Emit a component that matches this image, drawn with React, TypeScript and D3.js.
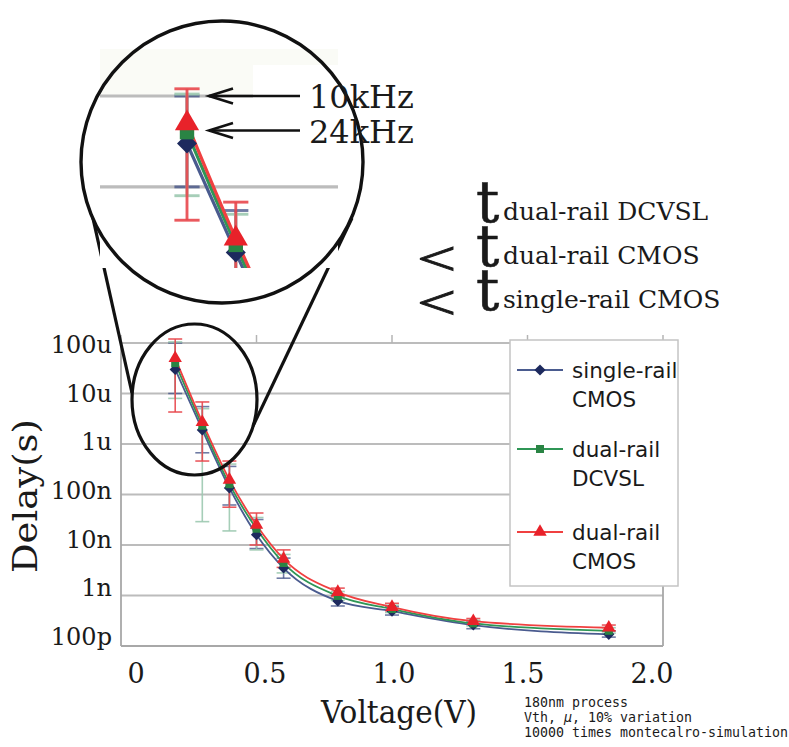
import React from "react";
import * as d3 from "d3";

// Supply voltage sweep (V)
const voltages = [0.2, 0.3, 0.4, 0.5, 0.6, 0.8, 1.0, 1.3, 1.8];

// Mean delay and Monte-Carlo spread (s)
const singleRailMean = [30e-6, 1.9e-6, 135e-9, 16e-9, 3.5e-9, 0.78e-9, 0.49e-9, 0.26e-9, 0.17e-9];
const singleRailLow = [10e-6, 0.67e-6, 62e-9, 8.5e-9, 2.2e-9, 0.62e-9, 0.41e-9, 0.22e-9, 0.15e-9];
const singleRailHigh = [100e-6, 5.5e-6, 360e-9, 32e-9, 5.5e-9, 1.0e-9, 0.6e-9, 0.31e-9, 0.2e-9];

const dcvslMean = [40e-6, 2.3e-6, 160e-9, 21e-9, 4.4e-9, 0.98e-9, 0.54e-9, 0.28e-9, 0.2e-9];
const dcvslLow = [8e-6, 29e-9, 19e-9, 8e-9, 2.8e-9, 0.8e-9, 0.46e-9, 0.25e-9, 0.18e-9];
const dcvslHigh = [105e-6, 5e-6, 400e-9, 35e-9, 6.5e-9, 1.2e-9, 0.64e-9, 0.32e-9, 0.23e-9];

const dualCmosMean = [50e-6, 2.7e-6, 195e-9, 25e-9, 5.3e-9, 1.17e-9, 0.59e-9, 0.31e-9, 0.23e-9];
const dualCmosLow = [4.3e-6, 0.46e-6, 56e-9, 10e-9, 3.6e-9, 0.95e-9, 0.5e-9, 0.27e-9, 0.2e-9];
const dualCmosHigh = [120e-6, 6.8e-6, 460e-9, 43e-9, 8e-9, 1.4e-9, 0.7e-9, 0.35e-9, 0.26e-9];

// Axis ticks
const yTickValues = [1e-10, 1e-9, 1e-8, 1e-7, 1e-6, 1e-5, 1e-4];
const yTickLabels = ["100p", "1n", "10n", "100n", "1u", "10u", "100u"];
const xTickValues = [0, 0.5, 1.0, 1.5, 2.0];
const xTickLabels = ["0", "0.5", "1.0", "1.5", "2.0"];

// Operating frequencies marked in the magnified view
const markedFreqs = [10e3, 24e3];
const markedFreqLabels = ["10kHz", "24kHz"];

// Delay ordering annotation
const relationTerms = ["dual-rail DCVSL", "dual-rail CMOS", "single-rail CMOS"];

const noteLines = ["180nm process", "Vth,  μ,  10% variation", "10000 times montecalro-simulation"];

const SERIF = "'DejaVu Serif', serif";
const TIMES = "'Liberation Serif', serif";
const SANS = "'DejaVu Sans', sans-serif";
const MONO = "'DejaVu Sans Mono', monospace";

type Series = {
  label: string[];
  mean: number[];
  low: number[];
  high: number[];
  line: string;
  marker: string;
  bar: string;
  barOpacity: number;
  symbol: d3.SymbolType;
  size: number;
  rotate: number;
};

const series: Series[] = [
  {
    label: ["single-rail", "CMOS"],
    mean: singleRailMean,
    low: singleRailLow,
    high: singleRailHigh,
    line: "#4a5b8f",
    marker: "#1d2a5e",
    bar: "#3f4f86",
    barOpacity: 0.75,
    symbol: d3.symbolSquare,
    size: 62,
    rotate: 45,
  },
  {
    label: ["dual-rail", "DCVSL"],
    mean: dcvslMean,
    low: dcvslLow,
    high: dcvslHigh,
    line: "#2f9656",
    marker: "#2a8444",
    bar: "#9cc9b0",
    barOpacity: 0.9,
    symbol: d3.symbolSquare,
    size: 64,
    rotate: 0,
  },
  {
    label: ["dual-rail", "CMOS"],
    mean: dualCmosMean,
    low: dualCmosLow,
    high: dualCmosHigh,
    line: "#f04040",
    marker: "#e8222a",
    bar: "#e8474c",
    barOpacity: 0.9,
    symbol: d3.symbolTriangle,
    size: 78,
    rotate: 0,
  },
];

const W = 789;
const H = 747;

const x = d3.scaleLinear().domain([0, 2]).range([121, 663]);
const y = d3.scaleLog().domain([1e-10, 1e-4]).range([646, 343]);
const xLabelPos = d3.scaleLinear().domain([0, 2]).range([136, 652]);
const yLabelBase = d3.scaleLog().domain([1e-10, 1e-4]).range([645, 353]);

const lineGen = d3
  .line<number>()
  .x((_, i) => x(voltages[i]))
  .y((d) => y(d))
  .curve(d3.curveMonotoneX);

// Magnified view: 1.8x around the 0.2 V / 100u corner
const zoomK = 1.8;
const zoomOrigin = { x: 187, y: 96 };
const zoomAnchorX = x(0.2);
const zoomAnchorY = y(1e-4);
const zoomTransform = `translate(${zoomOrigin.x},${zoomOrigin.y}) scale(${zoomK}) translate(${-zoomAnchorX},${-zoomAnchorY})`;
const zoomY = (v: number) => zoomOrigin.y + zoomK * (y(v) - zoomAnchorY);

function PlotMarks() {
  const top = y(1e-4);
  const bottom = y(1e-10);
  const cap = 7;
  return (
    <g>
      <rect x={x(0)} y={top} width={x(2) - x(0)} height={bottom - top} fill="#ffffff" />
      {yTickValues.map((t) => (
        <line key={t} x1={x(0)} x2={x(2)} y1={y(t)} y2={y(t)} stroke="#bcbcbc" strokeWidth={1.8} />
      ))}
      {xTickValues.map((v) => (
        <line key={v} x1={x(v)} x2={x(v)} y1={top - 8} y2={top} stroke="#b4b4b4" strokeWidth={1.5} />
      ))}
      <line x1={x(0)} x2={x(0)} y1={top} y2={bottom} stroke="#a8a8a8" strokeWidth={1.8} />
      <line x1={x(2)} x2={x(2)} y1={top} y2={bottom} stroke="#a8a8a8" strokeWidth={1.8} />
      <line x1={x(0)} x2={x(2)} y1={bottom} y2={bottom} stroke="#a8a8a8" strokeWidth={1.8} />

      {series.map((s, si) => (
        <g key={"bars" + si} stroke={s.bar} strokeOpacity={s.barOpacity} strokeWidth={1.6} fill="none">
          {voltages.map((v, i) => (
            <g key={i}>
              <line x1={x(v)} x2={x(v)} y1={y(s.high[i])} y2={y(s.low[i])} />
              <line x1={x(v) - cap} x2={x(v) + cap} y1={y(s.high[i])} y2={y(s.high[i])} />
              <line x1={x(v) - cap} x2={x(v) + cap} y1={y(s.low[i])} y2={y(s.low[i])} />
            </g>
          ))}
        </g>
      ))}

      {series.map((s, si) => (
        <path key={"line" + si} d={lineGen(s.mean) || ""} fill="none" stroke={s.line} strokeWidth={1.8} />
      ))}

      {series.map((s, si) => {
        const sym = d3.symbol().type(s.symbol).size(s.size)() || "";
        return (
          <g key={"marks" + si} fill={s.marker}>
            {voltages.map((v, i) => (
              <path
                key={i}
                d={sym}
                transform={`translate(${x(v)},${y(s.mean[i])}) rotate(${s.rotate})`}
              />
            ))}
          </g>
        );
      })}
    </g>
  );
}

function Legend() {
  const left = 510;
  const top = 340;
  const rowY = [370, 449, 532];
  return (
    <g>
      <rect x={left} y={top} width={168} height={246} fill="#ffffff" stroke="#c4c4c4" strokeWidth={1.5} />
      {series.map((s, i) => {
        const sym = d3.symbol().type(s.symbol).size(s.size)() || "";
        const cy = rowY[i];
        return (
          <g key={i}>
            <line x1={517} x2={563} y1={cy} y2={cy} stroke={s.line} strokeWidth={1.8} />
            <path d={sym} fill={s.marker} transform={`translate(540,${cy}) rotate(${s.rotate})`} />
            <text x={572} y={cy + 8} fontFamily={SANS} fontSize={21.5} fill="#1a1a1a">
              {s.label[0]}
            </text>
            <text x={572} y={cy + 37} fontFamily={SANS} fontSize={21.5} fill="#1a1a1a">
              {s.label[1]}
            </text>
          </g>
        );
      })}
    </g>
  );
}

export default function App() {
  const rowBase = [222, 266, 310];
  return (
    <svg
      width={W}
      height={H}
      viewBox={`0 0 ${W} ${H}`}
      style={{ position: "absolute", left: 0, top: 0, background: "#ffffff" }}
    >
      <defs>
        <clipPath id="zoomClip">
          <rect x={100} y={49} width={238} height={219} />
        </clipPath>
      </defs>
      <rect width={W} height={H} fill="#ffffff" />

      {/* main plot */}
      <PlotMarks />
      <Legend />

      {/* y tick labels */}
      {yTickValues.map((t, i) => (
        <text key={t} x={112} y={yLabelBase(t)} textAnchor="end" fontFamily={SERIF} fontSize={24} fill="#1a1a1a">
          {yTickLabels[i]}
        </text>
      ))}
      {/* x tick labels */}
      {xTickValues.map((v, i) => (
        <text key={v} x={xLabelPos(v)} y={683} textAnchor="middle" fontFamily={SERIF} fontSize={27} fill="#1a1a1a">
          {xTickLabels[i]}
        </text>
      ))}
      <text x={399} y={723} textAnchor="middle" fontFamily={SERIF} fontSize={31} textLength={156} lengthAdjust="spacingAndGlyphs" fill="#1a1a1a">
        Voltage(V)
      </text>
      <text
        transform="translate(37,496) rotate(-90)"
        textAnchor="middle"
        fontFamily={SERIF}
        fontSize={33}
        textLength={154}
        lengthAdjust="spacingAndGlyphs"
        fill="#1a1a1a"
      >
        Delay(s)
      </text>

      {/* simulation conditions */}
      <g transform="translate(524,0) scale(0.95,1)">
        {noteLines.map((t, i) => (
          <text key={i} x={0} y={707 + i * 15} fontFamily={MONO} fontSize={14} fill="#1a1a1a">
            {i === 1 ? (
              <>
                {"Vth,  "}
                <tspan fontStyle="italic">μ</tspan>
                {",  10% variation"}
              </>
            ) : (
              t
            )}
          </text>
        ))}
      </g>

      {/* callout from the low-voltage region to the magnified view */}
      <ellipse cx={194.5} cy={399.5} rx={62.5} ry={75.5} fill="none" stroke="#111" strokeWidth={3.2} />
      <line x1={90} y1={205} x2={132} y2={393} stroke="#111" strokeWidth={3.2} />
      <line x1={352} y1={218} x2={253} y2={426} stroke="#111" strokeWidth={3.2} />

      {/* magnified view */}
      <circle cx={222} cy={162} r={141} fill="#ffffff" />
      <g clipPath="url(#zoomClip)">
        <rect x={100} y={49} width={238} height={219} fill="#fafbf6" />
        <g transform={zoomTransform}>
          <PlotMarks />
        </g>
        <rect x={253} y={65} width={85} height={110} fill="#ffffff" />
      </g>
      <circle cx={222} cy={162} r={141} fill="none" stroke="#111" strokeWidth={3.4} />

      {markedFreqs.map((f, i) => {
        const yy = zoomY(1 / f);
        return (
          <g key={f}>
            <line x1={300} x2={209} y1={yy} y2={yy} stroke="#111" strokeWidth={2.6} />
            <polyline
              points={`233,${yy - 7.5} 209,${yy} 233,${yy + 7.5}`}
              fill="none"
              stroke="#111"
              strokeWidth={2.6}
            />
            <text x={309} y={yy + 12} fontFamily={SERIF} fontSize={32} fill="#1a1a1a">
              {markedFreqLabels[i]}
            </text>
          </g>
        );
      })}

      {/* delay ordering */}
      {relationTerms.map((t, i) => (
        <g key={t}>
          {i > 0 && (
            <text
              transform={`translate(417,${rowBase[i] + 9}) scale(1.45,1)`}
              fontFamily={TIMES}
              fontSize={48}
              fill="#1a1a1a"
              stroke="#1a1a1a"
              strokeWidth={0.9}
            >
              {"<"}
            </text>
          )}
          <text x={476} y={rowBase[i]} fontFamily={SERIF} fontSize={58} fill="#1a1a1a" stroke="#1a1a1a" strokeWidth={0.6}>
            t
          </text>
          <text x={503} y={rowBase[i] - 2} fontFamily={SERIF} fontSize={25} fill="#1a1a1a">
            {t}
          </text>
        </g>
      ))}
    </svg>
  );
}
